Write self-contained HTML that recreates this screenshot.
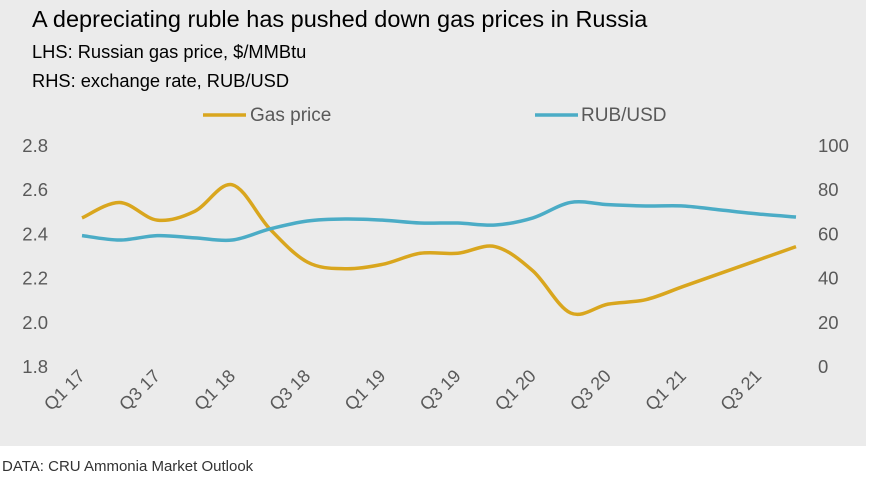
<!DOCTYPE html>
<html><head><meta charset="utf-8"><style>
body{margin:0;width:870px;height:480px;background:#fff;font-family:"Liberation Sans",sans-serif;overflow:hidden}
#panel{position:absolute;left:0;top:0;width:866px;height:446px;background:#ebebeb}
.t{position:absolute;left:32px;color:#000;white-space:nowrap}
</style></head><body>
<div id="panel"></div>
<div class="t" style="top:6px;font-size:23.5px">A depreciating ruble has pushed down gas prices in Russia</div>
<div class="t" style="top:41px;font-size:18.3px">LHS: Russian gas price, $/MMBtu</div>
<div class="t" style="top:70px;font-size:18.3px">RHS: exchange rate, RUB/USD</div>
<div style="position:absolute;left:2px;top:458px;font-size:15px;color:#333;white-space:nowrap">DATA: CRU Ammonia Market Outlook</div>
<svg id="c" width="870" height="480" style="position:absolute;left:0;top:0"></svg>
<script>
const quarters=["Q1 17","Q2 17","Q3 17","Q4 17","Q1 18","Q2 18","Q3 18","Q4 18","Q1 19","Q2 19","Q3 19","Q4 19","Q1 20","Q2 20","Q3 20","Q4 20","Q1 21","Q2 21","Q3 21","Q4 21"];
const gasPrice=[2.47,2.54,2.46,2.50,2.62,2.42,2.27,2.24,2.26,2.31,2.31,2.34,2.23,2.04,2.08,2.10,2.16,2.22,2.28,2.34];
const rubUsd=[59,57,59,58,57,62,65.6,66.5,66,64.7,64.7,63.8,67,74,73,72.4,72.4,70.6,68.8,67.4];
const leftTicks=["1.8","2.0","2.2","2.4","2.6","2.8"];
const rightTicks=["0","20","40","60","80","100"];
const NS="http://www.w3.org/2000/svg",svg=document.getElementById('c');
const X=i=>82+i*(796-82)/19;
const YL=v=>366-(v-1.8)/1.0*221;
const YR=v=>366-v/100*221;
function mk(t,a,txt){const e=document.createElementNS(NS,t);for(const k in a)e.setAttribute(k,a[k]);if(txt!=null)e.textContent=txt;svg.appendChild(e);return e;}
leftTicks.forEach(s=>{const e=mk('text',{x:48,y:YL(+s)+7,'text-anchor':'end','font-size':18.5,fill:'#595959','font-family':'Liberation Sans'},s);

});
rightTicks.forEach(s=>{const e=mk('text',{x:818,y:YR(+s)+7,'font-size':18.5,fill:'#595959','font-family':'Liberation Sans'},s);

});
quarters.forEach((q,i)=>{if(i%2)return;const x=X(i)+4,y=377;
const e=mk('text',{x:x,y:y,'text-anchor':'end','font-size':18,fill:'#595959','font-family':'Liberation Sans',transform:`rotate(-45 ${x} ${y})`},q);

});
function path(vals,Y){const p=vals.map((v,i)=>[X(i),Y(v)]);let d=`M${p[0][0]},${p[0][1]}`;
for(let i=0;i<p.length-1;i++){const p0=p[Math.max(0,i-1)],p1=p[i],p2=p[i+1],p3=p[Math.min(p.length-1,i+2)];
d+=` C${p1[0]+(p2[0]-p0[0])/6},${p1[1]+(p2[1]-p0[1])/6} ${p2[0]-(p3[0]-p1[0])/6},${p2[1]-(p3[1]-p1[1])/6} ${p2[0]},${p2[1]}`;}return d;}
const g=mk('path',{d:path(gasPrice,YL),fill:'none',stroke:'#d9a61e','stroke-width':3.5});


const r=mk('path',{d:path(rubUsd,YR),fill:'none',stroke:'#4bacc6','stroke-width':3.5});


const l1=mk('line',{x1:203,y1:115,x2:246,y2:115,stroke:'#d9a61e','stroke-width':3.5});


const t1=mk('text',{x:250,y:121,'font-size':19,fill:'#595959','font-family':'Liberation Sans'},'Gas price');


const l2=mk('line',{x1:535,y1:115,x2:578,y2:115,stroke:'#4bacc6','stroke-width':3.5});


const t2=mk('text',{x:581,y:121,'font-size':19,fill:'#595959','font-family':'Liberation Sans'},'RUB/USD');


</script>
</body></html>
